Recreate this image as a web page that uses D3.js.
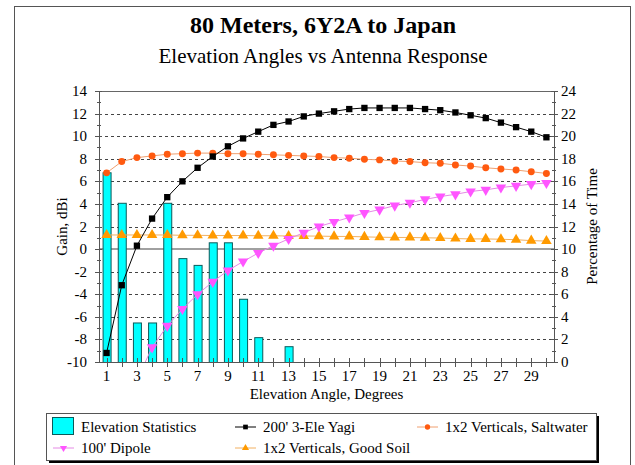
<!DOCTYPE html>
<html><head><meta charset="utf-8">
<script src="https://cdn.jsdelivr.net/npm/d3@7"></script>
<style>
body{margin:0;background:#fff;}
svg{display:block;}
svg text{font-family:"Liberation Serif","Times New Roman",serif;}
</style></head>
<body><svg id="c" width="635" height="465"></svg>
<script>
const angles = [1,2,3,4,5,6,7,8,9,10,11,12,13,14,15,16,17,18,19,20,21,22,23,24,25,26,27,28,29,30];
const elevStats = [16.8,14.1,3.5,3.5,14.1,9.2,8.6,10.6,10.6,5.6,2.2,0,1.4,0,0,0,0,0,0,0,0,0,0,0,0,0,0,0,0,0];
const yagi = [-9.2,-3.2,0.3,2.7,4.6,6.0,7.2,8.2,9.1,9.8,10.4,11.0,11.3,11.75,12.0,12.2,12.4,12.5,12.5,12.5,12.5,12.4,12.3,12.1,11.85,11.6,11.2,10.8,10.4,9.9];
const saltwater = [6.75,7.75,8.1,8.25,8.4,8.45,8.5,8.5,8.45,8.45,8.4,8.35,8.3,8.25,8.2,8.1,8.05,7.95,7.9,7.8,7.75,7.65,7.6,7.45,7.35,7.2,7.1,7.0,6.85,6.7];
const goodSoil = [1.25,1.25,1.25,1.25,1.25,1.22,1.22,1.2,1.2,1.2,1.18,1.18,1.16,1.16,1.15,1.12,1.12,1.08,1.05,1.03,1.03,1.0,0.98,0.93,0.9,0.9,0.87,0.83,0.75,0.71];
const dipole = [null,null,-11.6,-8.7,-6.8,-5.3,-4.0,-2.9,-1.9,-1.1,-0.35,0.3,0.9,1.45,2.0,2.4,2.8,3.2,3.5,3.85,4.1,4.4,4.65,4.85,5.1,5.25,5.45,5.6,5.75,5.85];
const gainTicks = [-10,-8,-6,-4,-2,0,2,4,6,8,10,12,14];
const pctTicks = [0,2,4,6,8,10,12,14,16,18,20,22,24];
const xLabelTicks = [1,3,5,7,9,11,13,15,17,19,21,23,25,27,29];
const titleText = "80 Meters, 6Y2A to Japan";
const subtitleText = "Elevation Angles vs Antenna Response";

const FONT = "Liberation Serif";
const svg = d3.select("#c");
const L=99, R=554, T=91, B=362;
const x = d3.scaleBand().domain(angles).range([L,R]);
const yL = d3.scaleLinear().domain([-10,14]).range([B,T]);
const yR = d3.scaleLinear().domain([0,24]).range([B,T]);
const cx = d => x(d) + x.bandwidth()/2;

// outer frame
svg.append("rect").attr("x",14.5).attr("y",6.5).attr("width",616).attr("height",480)
  .attr("fill","none").attr("stroke","#555").attr("stroke-width",1);

// titles
svg.append("text").attr("x",323).attr("y",33).attr("text-anchor","middle").attr("font-family",FONT)
  .attr("font-size",24).attr("font-weight","bold").text(titleText);
svg.append("text").attr("x",323).attr("y",63).attr("text-anchor","middle").attr("font-family",FONT)
  .attr("font-size",21).text(subtitleText);

// gridlines
svg.append("g").selectAll("line").data(gainTicks.filter(t=>t!==0 && t!==14 && t!==-10)).join("line")
  .attr("x1",L).attr("x2",R).attr("y1",d=>Math.round(yL(d))+0.5).attr("y2",d=>Math.round(yL(d))+0.5)
  .attr("stroke","#444").attr("stroke-dasharray","3,3").attr("stroke-width",1);
svg.append("line").attr("x1",L).attr("x2",R).attr("y1",T+0.5).attr("y2",T+0.5).attr("stroke","#666");
svg.append("line").attr("x1",L).attr("x2",R).attr("y1",yL(0)).attr("y2",yL(0)).attr("stroke","#a0a0a0").attr("stroke-width",2);

svg.append("clipPath").attr("id","pc").append("rect").attr("x",L).attr("y",T).attr("width",R-L).attr("height",B-T);
const plot = svg.append("g").attr("clip-path","url(#pc)");

const bw = 8;
plot.selectAll("rect.bar").data(angles.map((a,i)=>({a,v:elevStats[i]})).filter(d=>d.v>0)).join("rect")
  .attr("class","bar").attr("x",d=>cx(d.a)-bw/2+0.5).attr("y",d=>yR(d.v)+0.5)
  .attr("width",bw).attr("height",d=>B-yR(d.v))
  .attr("fill","#00ffff").attr("stroke","#0b5a5a").attr("stroke-width",1);

function series(vals, lineColor, markColor, shape){
  const pts = angles.map((a,i)=>({a,v:vals[i]})).filter(d=>d.v!==null);
  plot.append("path").datum(pts)
    .attr("d", d3.line().x(d=>cx(d.a)).y(d=>yL(d.v)))
    .attr("fill","none").attr("stroke",lineColor).attr("stroke-width",1);
  const g = plot.append("g");
  const sym = d3.symbol().type(shape.type).size(shape.size);
  g.selectAll("path").data(pts.filter(d=>d.v>=-10 && d.v<=14)).join("path")
    .attr("d",sym).attr("transform",d=>`translate(${cx(d.a)},${yL(d.v)}) rotate(${shape.rot||0})`)
    .attr("fill",markColor);
}
series(goodSoil,"#f2b060","#ff9a00",{type:d3.symbolTriangle,size:48});
series(dipole,"#e58ae5","#ff55ff",{type:d3.symbolTriangle,size:48,rot:180});
series(saltwater,"#f0a070","#ff5a10",{type:d3.symbolCircle,size:38});
series(yagi,"#000","#000",{type:d3.symbolSquare,size:40});

const ax = svg.append("g").attr("font-size",15).attr("font-family",FONT).attr("fill","#000");
ax.append("line").attr("x1",L+0.5).attr("x2",L+0.5).attr("y1",T).attr("y2",B).attr("stroke","#555");
ax.append("line").attr("x1",R+0.5).attr("x2",R+0.5).attr("y1",T).attr("y2",B).attr("stroke","#555");
ax.append("line").attr("x1",L).attr("x2",R+1).attr("y1",B+0.5).attr("y2",B+0.5).attr("stroke","#555");
const minorG = d3.range(-10,14.01,1);
ax.selectAll("line.lt").data(minorG).join("line").attr("class","lt")
  .attr("x1",d=>d%2===0?L-4:L-2).attr("x2",d=>d%2===0?L+3:L+2)
  .attr("y1",d=>Math.round(yL(d))+0.5).attr("y2",d=>Math.round(yL(d))+0.5).attr("stroke","#555");
ax.selectAll("line.rt").data(minorG).join("line").attr("class","rt")
  .attr("x1",d=>d%2===0?R-3:R-2).attr("x2",d=>d%2===0?R+4:R+2)
  .attr("y1",d=>Math.round(yL(d))+0.5).attr("y2",d=>Math.round(yL(d))+0.5).attr("stroke","#555");
ax.selectAll("text.ly").data(gainTicks).join("text").attr("class","ly")
  .attr("x",87).attr("y",d=>yL(d)+5).attr("text-anchor","end").text(d=>d);
ax.selectAll("text.ry").data(pctTicks).join("text").attr("class","ry")
  .attr("x",561).attr("y",d=>yR(d)+5).attr("text-anchor","start").text(d=>d);
ax.selectAll("line.xt").data(angles).join("line").attr("class","xt")
  .attr("x1",d=>Math.round(cx(d))+0.5).attr("x2",d=>Math.round(cx(d))+0.5)
  .attr("y1",B-4).attr("y2",B+5).attr("stroke","#555");
ax.selectAll("text.xl").data(xLabelTicks).join("text").attr("class","xl")
  .attr("x",d=>cx(d)).attr("y",381).attr("text-anchor","middle").text(d=>d);

svg.append("text").attr("x",(L+R)/2).attr("y",399).attr("text-anchor","middle").attr("font-size",15).attr("font-family",FONT)
  .text("Elevation Angle, Degrees");
svg.append("text").attr("transform",`translate(67,${(T+B)/2}) rotate(-90)`).attr("text-anchor","middle")
  .attr("font-size",15).attr("font-family",FONT).text("Gain, dBi");
svg.append("text").attr("transform",`translate(597,${(T+B)/2}) rotate(-90)`).attr("text-anchor","middle")
  .attr("font-size",15).attr("font-family",FONT).text("Percentage of Time");

const lg = svg.append("g").attr("font-size",15).attr("font-family",FONT);
lg.append("rect").attr("x",49).attr("y",416).attr("width",550).attr("height",47).attr("fill","#000");
lg.append("rect").attr("x",46.5).attr("y",413.5).attr("width",550).attr("height",47).attr("fill","#fff").attr("stroke","#555");
const legendItems = [
  {name:"Elevation Statistics", kind:"bar", col:0,row:0},
  {name:"200' 3-Ele Yagi", kind:"line", line:"#000", mark:"#000", shape:d3.symbolSquare, rot:0, col:1,row:0},
  {name:"1x2 Verticals, Saltwater", kind:"line", line:"#f0a070", mark:"#ff5a10", shape:d3.symbolCircle, rot:0, col:2,row:0},
  {name:"100' Dipole", kind:"line", line:"#e58ae5", mark:"#ff55ff", shape:d3.symbolTriangle, rot:180, col:0,row:1},
  {name:"1x2 Verticals, Good Soil", kind:"line", line:"#f2b060", mark:"#ff9a00", shape:d3.symbolTriangle, rot:0, col:1,row:1}
];
const colX = [52, 234, 416], rowY = [427, 448];
legendItems.forEach(it=>{
  const x0 = colX[it.col], y0 = rowY[it.row];
  if(it.kind==="bar"){
    lg.append("rect").attr("x",x0+0.5).attr("y",y0-9.5).attr("width",21).attr("height",17)
      .attr("fill","#00ffff").attr("stroke","#0b5a5a");
  } else {
    lg.append("line").attr("x1",x0+1).attr("x2",x0+22).attr("y1",y0).attr("y2",y0).attr("stroke",it.line);
    lg.append("path").attr("d",d3.symbol().type(it.shape).size(22)())
      .attr("transform",`translate(${x0+11.5},${y0}) rotate(${it.rot})`).attr("fill",it.mark);
  }
  lg.append("text").attr("x",x0+29).attr("y",y0+5).text(it.name);
});
</script></body></html>
